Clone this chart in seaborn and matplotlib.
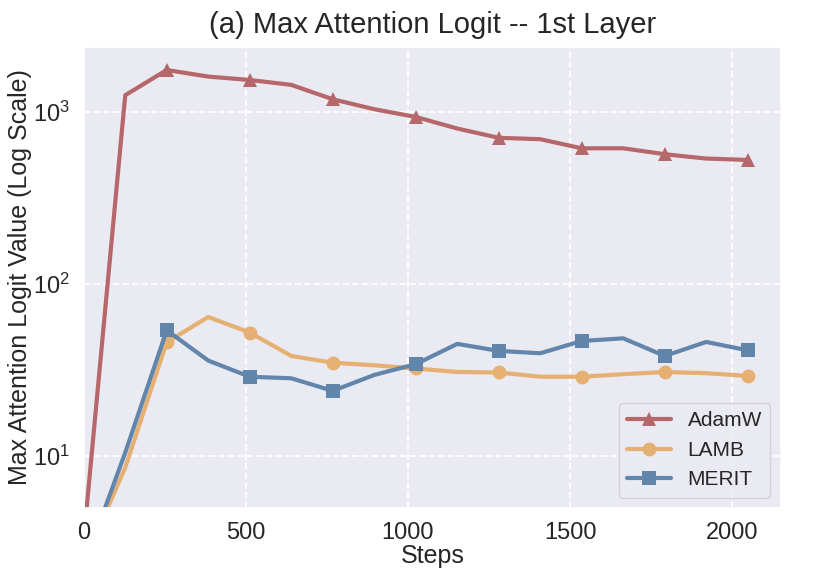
import pandas as pd
import matplotlib
matplotlib.use('Agg')
import matplotlib.pyplot as plt
import seaborn as sns

steps = [0, 128, 256, 384, 512, 640, 768, 896, 1024, 1152,
         1280, 1408, 1536, 1664, 1792, 1920, 2048]
adamw = [3.3, 1256, 1760, 1611, 1540, 1442, 1190, 1041, 939, 804,
         710, 697, 617, 617, 570, 538, 528]
lamb = [2.4, 8.6, 46, 64.5, 52.4, 38.3, 35, 33.8, 32.4, 30.9,
        30.7, 29, 29, 30, 30.9, 30.4, 29.3]
merit = [2.3, 10.5, 54, 36, 29, 28.4, 24, 29.7, 34.3, 45,
         41, 39.7, 46.8, 48.5, 38.3, 46.2, 41.3]

series = {'AdamW': adamw, 'LAMB': lamb, 'MERIT': merit}
colors = {'AdamW': '#b5676a', 'LAMB': '#e6b072', 'MERIT': '#6285ab'}
markers = {'AdamW': '^', 'LAMB': 'o', 'MERIT': 's'}

sns.set_theme(style='darkgrid', rc={'grid.linestyle': '--', 'grid.linewidth': 1.3})
plt.rcParams['font.family'] = ['Liberation Sans', 'DejaVu Sans']
plt.rcParams['mathtext.fontset'] = 'custom'
plt.rcParams['mathtext.rm'] = 'Liberation Sans'
plt.rcParams['mathtext.it'] = 'Liberation Sans:italic'

fig, ax = plt.subplots(figsize=(8.21, 5.78), dpi=100)
fig.subplots_adjust(left=0.102, right=0.951, bottom=0.121, top=0.919)

for name, vals in series.items():
    df = pd.DataFrame({'step': steps, 'value': vals})
    sns.lineplot(data=df, x='step', y='value', ax=ax, color=colors[name],
                 marker=markers[name], markevery=(0, 2), markersize=10,
                 markeredgewidth=0, linewidth=3, label=name)

ax.set_yscale('log')
ax.set_ylim(5, 2400)
ax.set_xlim(0, 2150)
ax.set_xticks([0, 500, 1000, 1500, 2000])
ax.tick_params(labelsize=17, pad=4)
ax.set_xlabel('Steps', fontsize=18, labelpad=0)
ax.set_ylabel('Max Attention Logit Value (Log Scale)', fontsize=18, labelpad=1)
ax.set_title('(a) Max Attention Logit -- 1st Layer', fontsize=21, pad=10)
ax.legend(loc='lower right', fontsize=15, handlelength=2.1)

fig.savefig('out.png', dpi=100)
